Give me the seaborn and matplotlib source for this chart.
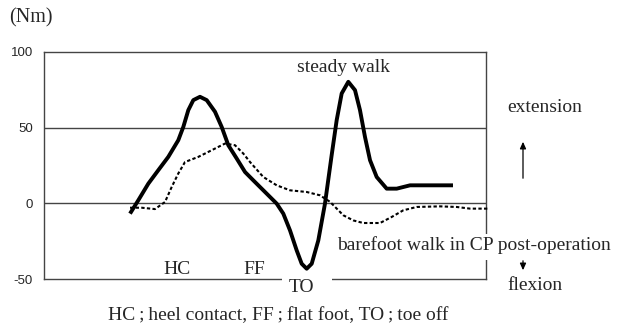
import matplotlib
matplotlib.use("Agg")
import matplotlib.pyplot as plt
from matplotlib.patches import Rectangle, FancyArrowPatch
import seaborn as sns
import pandas as pd

# gait cycle position (%) and ankle moment (Nm)
steady_x = [19.46, 21.33, 23.60, 25.86, 28.12, 30.38, 31.52, 32.65, 33.78, 35.29,
            36.81, 38.69, 40.20, 41.70, 43.60, 45.48, 47.35, 50.38, 52.65, 54.14,
            55.66, 57.17, 58.30, 59.43, 60.57, 62.06, 63.57, 65.09, 66.22, 67.35,
            68.85, 70.36, 71.49, 72.62, 73.76, 75.27, 77.53, 79.80, 82.81, 92.53]
steady_y = [-6.8, 2.0, 13.0, 21.9, 30.7, 41.7, 50.5, 61.6, 68.2, 70.4,
            68.2, 60.5, 50.5, 38.4, 29.6, 20.7, 15.2, 6.4, -0.2, -6.8,
            -17.9, -31.1, -39.9, -43.2, -39.9, -24.5, -0.2, 32.0, 55.0, 72.6,
            80.3, 74.8, 61.6, 43.9, 28.5, 17.4, 9.7, 9.7, 11.9, 11.9]

cp_x = [19.46, 22.10, 25.11, 27.38, 28.89, 30.38, 31.90, 34.91, 37.94, 40.95,
        43.21, 45.09, 46.61, 49.62, 52.65, 55.66, 59.43, 62.44, 64.71, 67.72,
        69.98, 72.24, 76.02, 78.67, 81.29, 84.32, 89.59, 93.37, 96.38, 100.45]
cp_y = [-2.9, -2.9, -3.8, 0.9, 10.8, 19.7, 27.3, 30.7, 35.1, 39.5,
        38.4, 32.9, 27.3, 17.4, 11.9, 8.6, 7.5, 5.3, 1.0, -7.9,
        -11.3, -13.0, -13.0, -9.0, -4.6, -2.4, -2.0, -2.4, -3.5, -3.5]

y_ticks = [100, 50, 0, -50]

sns.set_style("white")
plt.rcParams["font.family"] = ["Liberation Serif", "DejaVu Serif"]

W, H = 626, 335
fig = plt.figure(figsize=(W / 100, H / 100), dpi=100)
ax = fig.add_axes([44 / W, 1 - 279 / H, (486 - 44) / W, (279 - 52) / H])

steady = pd.DataFrame({"x": steady_x, "y": steady_y})
cp = pd.DataFrame({"x": cp_x, "y": cp_y})

sns.lineplot(data=steady, x="x", y="y", ax=ax, color="black", linewidth=2.8,
             sort=False, estimator=None, zorder=3)
sns.lineplot(data=cp, x="x", y="y", ax=ax, color="black", linewidth=1.5,
             linestyle=(0, (1.6, 1.1)), sort=False, estimator=None, zorder=3,
             clip_on=False)
for ln in ax.get_lines():
    ln.set_solid_joinstyle("round")
    ln.set_solid_capstyle("butt")

ax.set_xlim(0, 100)
ax.set_ylim(-50, 100)
ax.set_xticks([])
ax.set_yticks(y_ticks)
ax.set_yticklabels([str(v) for v in y_ticks], fontfamily="Liberation Sans", fontsize=9.5)
ax.tick_params(axis="y", length=0, pad=8)
ax.set_xlabel("")
ax.set_ylabel("")
for v in [50, 0]:
    ax.axhline(v, color="#444444", linewidth=1.0, zorder=1)
for s in ax.spines.values():
    s.set_color("#444444")
    s.set_linewidth(1.0)

def ftext(px, py, s, size=14, ha="left", va="center"):
    fig.text(px / W, 1 - py / H, s, fontsize=size, ha=ha, va=va, zorder=5)

def white_box(x0, y0, x1, y1):
    fig.add_artist(Rectangle((x0 / W, 1 - y1 / H), (x1 - x0) / W, (y1 - y0) / H,
                             transform=fig.transFigure, facecolor="white",
                             edgecolor="none", zorder=1))

# white text backgrounds that interrupt the frame
white_box(282, 275, 332, 298)
white_box(335, 234, 622, 260)

ftext(9, 18, "(Nm)", 14.5)
ftext(297, 67, "steady walk")
ftext(507, 107, "extension")
ftext(163, 269, "HC")
ftext(243, 269, "FF")
ftext(289, 287, "TO")
ftext(337, 245, "barefoot walk in CP post-operation")
ftext(507, 285, "flexion")
ftext(108, 316, "HC\u2009;\u2009heel contact, FF\u2009;\u2009flat foot, TO\u2009;\u2009toe off")

fig.add_artist(FancyArrowPatch(
    (523 / W, 1 - 181 / H), (523 / W, 1 - 139 / H), transform=fig.transFigure,
    arrowstyle="-|>,head_length=4,head_width=1.8", color="black", linewidth=0.9,
    zorder=2))
fig.add_artist(FancyArrowPatch(
    (523 / W, 1 - 258 / H), (523 / W, 1 - 273 / H), transform=fig.transFigure,
    arrowstyle="-|>,head_length=4,head_width=1.8", color="black", linewidth=0.9,
    zorder=2))

fig.savefig("out.png", dpi=100)
